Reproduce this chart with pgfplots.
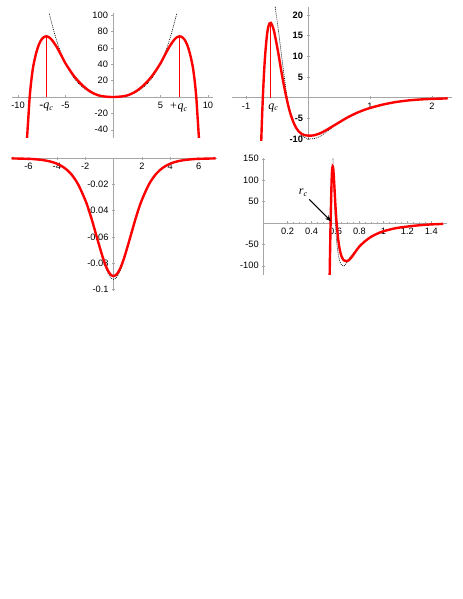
\documentclass[border=0pt]{standalone}
\usepackage{pgfplots}
\pgfplotsset{compat=1.18}
\usetikzlibrary{arrows.meta}
\usepackage{fontspec}
\setmainfont{Liberation Sans}
\newfontfamily\tnr{Liberation Serif}

\definecolor{mred}{RGB}{255,0,0}
\pgfplotsset{
  mma/.style={
    axis lines=middle, scale only axis, anchor=south west,
    axis line style={gray!70, line width=0.5bp, -},
    tick style={gray!70, line width=0.4bp},
    major tick length=3bp, minor tick length=1.6bp,
    tick label style={font=\fontsize{9.3}{11}\selectfont, black},
    clip=true,
  },
  curve/.style={mred, line width=2.4bp, smooth},
  approx/.style={black, line width=0.6bp, dash pattern=on 1bp off 1bp, smooth},
  qline/.style={draw=mred, line width=1.1bp, solid, no markers},
}
\tikzset{lbl/.style={font=\fontsize{12}{13}\selectfont\tnr\itshape}}

\begin{document}
\begin{tikzpicture}[x=1bp,y=1bp]
\path[use as bounding box] (0,0) rectangle (463,599);

% top left
\begin{axis}[mma, at={(12.3bp,461bp)}, width=200.4bp, height=124.6bp,
  xmin=-10.6, xmax=10.5, ymin=-50, ymax=102,
  xtick={-10,-5,5,10}, xticklabels={-10,-5,5,10},
  ytick={-40,-20,20,40,60,80,100}, yticklabels={-40,-20,20,40,60,80,100},
  minor x tick num=4, minor y tick num=3]
\addplot[qline] coordinates {(-7,0) (-7,74)};
\addplot[qline] coordinates {(7,0) (7,74)};
\addplot[approx] coordinates {
  (-6.7,101.7) (-6.5,92.2) (-6,71.4) (-5.5,54.4) (-5,40.8) (-4.5,29.9) (-4,21.5)
  (-3.5,15.0) (-3,10.1) (-2.5,6.4) (-2,3.8) (-1.5,2.0) (-1,0.86) (-0.5,0.21) (0,0)
  (0.5,0.21) (1,0.86) (1.5,2.0) (2,3.8) (2.5,6.4) (3,10.1) (3.5,15.0) (4,21.5)
  (4.5,29.9) (5,40.8) (5.5,54.4) (6,71.4) (6.5,92.2) (6.7,101.7)
};
\addplot[curve] coordinates {
  (-9.06,-52) (-8.95,-32) (-8.87,-18) (-8.77,0) (-8.6,20) (-8.4,37) (-8.1,53)
  (-7.8,64) (-7.5,70.5) (-7.2,73.6) (-7.0,74) (-6.8,73.3) (-6.5,70.5) (-6.0,62.5)
  (-5.5,52) (-5.0,41) (-4.5,32) (-4.0,24) (-3.5,17.5) (-3.0,12) (-2.5,7.5)
  (-2.0,4.2) (-1.5,1.9) (-1.0,0.8) (-0.5,0.2) (0,0)
  (0.5,0.2) (1.0,0.8) (1.5,1.9) (2.0,4.2) (2.5,7.5) (3.0,12) (3.5,17.5) (4.0,24)
  (4.5,32) (5.0,41) (5.5,52) (6.0,62.5) (6.5,70.5) (6.8,73.3) (7.0,74) (7.2,73.6)
  (7.5,70.5) (7.8,64) (8.1,53) (8.4,37) (8.6,20) (8.77,0) (8.87,-18) (8.95,-32) (9.06,-52)
};
\node[lbl] at (axis cs:-7,-12.5) {-q\textsubscript{c}};
\node[lbl] at (axis cs:6.9,-12.5) {+q\textsubscript{c}};
\end{axis}

% top right
\begin{axis}[mma, at={(232.4bp,458.8bp)}, width=219.5bp, height=133.4bp,
  xmin=-1.22, xmax=2.32, ymin=-10.3, ymax=22,
  xtick={-1,1,2}, xticklabels={-1,1,2},
  ytick={-10,-5,5,10,15,20}, yticklabels={-10,-5,5,10,15,20},
  yticklabel style={font=\fontsize{9.3}{11}\selectfont\bfseries},
  minor x tick num=4, minor y tick num=4]
\addplot[qline] coordinates {(-0.6,0) (-0.6,18.1)};
\addplot[approx] coordinates {
  (-0.53,22) (-0.48,16.5) (-0.43,10.5) (-0.38,4.6) (-0.34,0.3) (-0.3,-2.8)
  (-0.25,-5.2) (-0.2,-7.0) (-0.15,-8.3) (-0.1,-9.2) (-0.05,-9.7) (0,-9.95)
  (0.05,-10.0) (0.1,-9.9) (0.15,-9.7) (0.2,-9.3) (0.3,-8.3) (0.4,-7.1)
  (0.5,-6.0) (0.6,-5.1) (0.7,-4.3) (0.8,-3.6) (0.9,-3.0) (1.0,-2.5) (1.2,-1.7)
  (1.4,-1.1) (1.6,-0.7) (1.8,-0.45) (2.0,-0.3) (2.25,-0.18)
};
\addplot[curve] coordinates {
  (-0.755,-10.5) (-0.74,-4) (-0.72,3) (-0.70,8.5) (-0.68,12.5) (-0.66,15.5)
  (-0.64,17.2) (-0.62,18) (-0.60,18.1) (-0.58,17.6) (-0.55,16.2) (-0.52,14)
  (-0.48,10.8) (-0.44,7.2) (-0.40,3.8) (-0.36,0.8) (-0.32,-1.9) (-0.28,-4.1)
  (-0.24,-5.8) (-0.2,-7.1) (-0.15,-8.2) (-0.1,-8.8) (-0.05,-9.1) (0,-9.2)
  (0.05,-9.2) (0.1,-9.1) (0.2,-8.6) (0.3,-7.8) (0.4,-6.9) (0.5,-6.0) (0.6,-5.1)
  (0.7,-4.3) (0.8,-3.6) (0.9,-3.0) (1.0,-2.5) (1.2,-1.7) (1.4,-1.1) (1.6,-0.7)
  (1.8,-0.45) (2.0,-0.3) (2.25,-0.18)
};
\node[lbl] at (axis cs:-0.56,-2.4) {q\textsubscript{c}};
\end{axis}

% bottom left
\begin{axis}[mma, at={(11.5bp,307.8bp)}, width=205.5bp, height=133.6bp,
  xmin=-7.2, xmax=7.3, ymin=-0.1015, ymax=0.0005,
  xtick={-6,-4,-2,2,4,6}, xticklabels={-6,-4,-2,2,4,6},
  ytick={-0.1,-0.08,-0.06,-0.04,-0.02},
  yticklabels={-0.1,-0.08,-0.06,-0.04,-0.02},
  minor x tick num=3, minor y tick num=3]
\addplot[approx] coordinates {
  (-7.2,-0.00012) (-6,-0.00046) (-5.5,-0.0008) (-5,-0.00138) (-4.5,-0.00239)
  (-4,-0.00413) (-3.5,-0.00708) (-3,-0.01197) (-2.5,-0.0199) (-2,-0.0318)
  (-1.75,-0.0394) (-1.5,-0.0481) (-1.25,-0.0578) (-1,-0.0676) (-0.75,-0.0772)
  (-0.5,-0.0852) (-0.25,-0.0905) (0,-0.0925) (0.25,-0.0905) (0.5,-0.0852)
  (0.75,-0.0772) (1,-0.0676) (1.25,-0.0578) (1.5,-0.0481) (1.75,-0.0394)
  (2,-0.0318) (2.5,-0.0199) (3,-0.01197) (3.5,-0.00708) (4,-0.00413)
  (4.5,-0.00239) (5,-0.00138) (5.5,-0.0008) (6,-0.00046) (7.2,-0.00012)
};
\addplot[curve] coordinates {
  (-7.2,-0.00012) (-6,-0.00046) (-5.5,-0.0008) (-5,-0.00138) (-4.5,-0.00239)
  (-4,-0.00413) (-3.5,-0.00708) (-3,-0.01197) (-2.5,-0.0199) (-2,-0.0318)
  (-1.75,-0.0394) (-1.5,-0.0481) (-1.25,-0.0576) (-1,-0.0670) (-0.75,-0.0760)
  (-0.5,-0.0834) (-0.25,-0.0883) (0,-0.0900) (0.25,-0.0883) (0.5,-0.0834)
  (0.75,-0.0760) (1,-0.0670) (1.25,-0.0576) (1.5,-0.0481) (1.75,-0.0394)
  (2,-0.0318) (2.5,-0.0199) (3,-0.01197) (3.5,-0.00708) (4,-0.00413)
  (4.5,-0.00239) (5,-0.00138) (5.5,-0.0008) (6,-0.00046) (7.2,-0.00012)
};
\end{axis}

% bottom right
\begin{axis}[mma, at={(263.7bp,324.3bp)}, width=183.1bp, height=116.4bp,
  xmin=0, xmax=1.53, ymin=-121, ymax=151,
  xtick={0.2,0.4,0.6,0.8,1,1.2,1.4}, xticklabels={0.2,0.4,0.6,0.8,1,1.2,1.4},
  ytick={-100,-50,50,100,150}, yticklabels={-100,-50,50,100,150},
  minor x tick num=3, minor y tick num=4]
\addplot[approx] coordinates {
  (0.578,155) (0.582,125) (0.586,92) (0.59,60) (0.595,25) (0.6,-5) (0.607,-35)
  (0.616,-60) (0.627,-80) (0.64,-93) (0.655,-99.5) (0.668,-101) (0.682,-98)
  (0.7,-90) (0.72,-81) (0.745,-72) (0.77,-65) (0.8,-56) (0.85,-42.5) (0.9,-32)
  (0.95,-25) (1.0,-19.5) (1.1,-12.5) (1.2,-8.5) (1.3,-5.5) (1.4,-3.5) (1.5,-2.3)
};
\addplot[curve] coordinates {
  (0.551,-125) (0.553,-90) (0.556,-45) (0.559,0) (0.563,50) (0.567,95)
  (0.571,122) (0.576,132) (0.581,127) (0.586,108) (0.592,78) (0.599,42)
  (0.606,12) (0.614,-15) (0.624,-42) (0.636,-63) (0.65,-78) (0.668,-87)
  (0.69,-89.5) (0.71,-87.5) (0.74,-78) (0.77,-66) (0.8,-55) (0.85,-42)
  (0.9,-32) (0.95,-25) (1.0,-19.5) (1.1,-12.5) (1.2,-8.5) (1.3,-5.5)
  (1.4,-3.5) (1.5,-2.3)
};
\draw[-{Stealth[length=6bp,width=5bp]}, line width=1.1bp] (axis cs:0.38,55) -- (axis cs:0.562,4);
\node[lbl] at (axis cs:0.33,70) {r\textsubscript{c}};
\end{axis}
\end{tikzpicture}
\end{document}
